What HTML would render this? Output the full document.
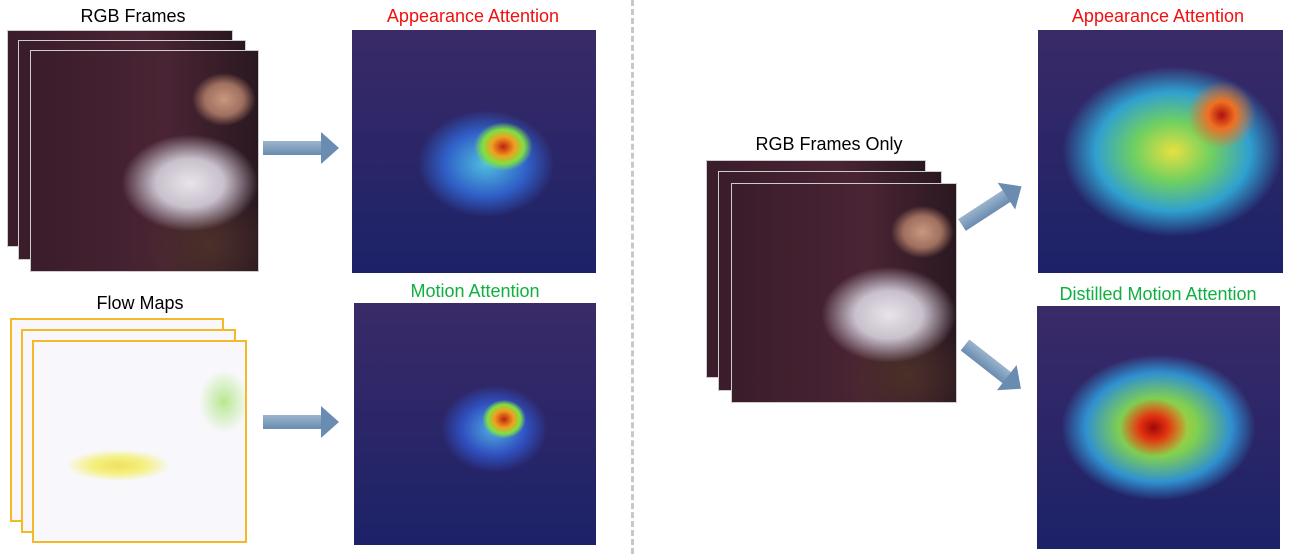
<!DOCTYPE html>
<html><head><meta charset="utf-8"><style>
body{margin:0;width:1293px;height:554px;background:#fff;position:relative;overflow:hidden;font-family:"Liberation Sans",sans-serif}
.a{position:absolute}
.t{position:absolute;font-size:18px;white-space:nowrap;transform:translateX(-50%)}
.photo{position:absolute;border:1px solid #ccc;background:
radial-gradient(ellipse 14% 12% at 85% 22%,#c89880 0,#a07060 60%,transparent 100%),
radial-gradient(ellipse 30% 22% at 70% 60%,#e8e4ea 0,#c8c0cc 50%,transparent 100%),
radial-gradient(ellipse 30% 25% at 78% 88%,#4a3028 0,transparent 100%),
linear-gradient(90deg,#3a1c2a 0,#4a2434 60%,#2a1820 100%)}
.flow{position:absolute;border:2px solid #f5b828;background:
radial-gradient(ellipse 12% 16% at 90% 30%,#b8e890 0,transparent 100%),
radial-gradient(ellipse 25% 8% at 40% 62%,#f0e060 0,#f4f080 50%,transparent 100%),
#f8f8fc}
.att{position:absolute;background:linear-gradient(#2a2a70,#1c2268)}
.arrow{position:absolute;height:14px;background:linear-gradient(#9ab4cc,#6a8cb0)}
.arrow:after{content:"";position:absolute;right:-16px;top:-9px;border-left:18px solid #6a8cb0;border-top:16px solid transparent;border-bottom:16px solid transparent}
</style></head><body>
<div class="t" style="left:133px;top:6px">RGB Frames</div>
<div class="photo" style="left:7px;top:30px;width:224px;height:215px"></div>
<div class="photo" style="left:18px;top:40px;width:226px;height:218px"></div>
<div class="photo" style="left:30px;top:50px;width:227px;height:220px"></div>
<div class="arrow" style="left:263px;top:141px;width:60px"></div>
<div class="t" style="left:473px;top:6px;color:#f01010">Appearance Attention</div>
<div class="att" style="left:352px;top:30px;width:244px;height:243px;background:
radial-gradient(ellipse 12% 10% at 62% 48%,#c02010 0,#f0a020 40%,#80e040 70%,transparent 100%),
radial-gradient(ellipse 28% 22% at 55% 55%,#50c0e0 0,#3060c8 60%,transparent 100%),
linear-gradient(#3a2a68,#1c2268)"></div>
<div class="t" style="left:140px;top:293px">Flow Maps</div>
<div class="flow" style="left:10px;top:318px;width:210px;height:200px"></div>
<div class="flow" style="left:21px;top:329px;width:211px;height:200px"></div>
<div class="flow" style="left:32px;top:340px;width:211px;height:199px"></div>
<div class="arrow" style="left:263px;top:415px;width:60px"></div>
<div class="t" style="left:475px;top:281px;color:#10b040">Motion Attention</div>
<div class="att" style="left:354px;top:303px;width:242px;height:242px;background:
radial-gradient(ellipse 9% 8% at 62% 48%,#c02010 0,#f0a020 45%,#80e040 75%,transparent 100%),
radial-gradient(ellipse 22% 18% at 58% 52%,#50b0e0 0,#3050c0 60%,transparent 100%),
linear-gradient(#3a2a68,#1c2268)"></div>
<div class="a" style="left:631px;top:0;height:554px;border-left:3px dashed #c8c8c8"></div>
<div class="t" style="left:829px;top:134px">RGB Frames Only</div>
<div class="photo" style="left:706px;top:160px;width:218px;height:216px"></div>
<div class="photo" style="left:718px;top:171px;width:222px;height:218px"></div>
<div class="photo" style="left:731px;top:183px;width:224px;height:218px"></div>
<div class="arrow" style="left:962px;top:218px;width:55px;transform-origin:0 50%;transform:rotate(-33deg)"></div>
<div class="arrow" style="left:965px;top:338px;width:55px;transform-origin:0 50%;transform:rotate(38deg)"></div>
<div class="t" style="left:1158px;top:6px;color:#f01010">Appearance Attention</div>
<div class="att" style="left:1038px;top:30px;width:245px;height:243px;background:
radial-gradient(ellipse 14% 14% at 75% 35%,#b01010 0,#f07020 40%,transparent 100%),
radial-gradient(ellipse 45% 35% at 55% 50%,#e8e040 0,#70d060 35%,#30a0d0 70%,transparent 100%),
linear-gradient(#3a2a68,#1c2268)"></div>
<div class="t" style="left:1158px;top:284px;color:#10b040">Distilled Motion Attention</div>
<div class="att" style="left:1037px;top:306px;width:243px;height:243px;background:
radial-gradient(ellipse 14% 12% at 48% 50%,#a00808 0,#e03010 40%,transparent 100%),
radial-gradient(ellipse 40% 30% at 50% 50%,#f0c020 0,#80d050 40%,#3090d0 75%,transparent 100%),
linear-gradient(#3a2a68,#1c2268)"></div>
</body></html>
